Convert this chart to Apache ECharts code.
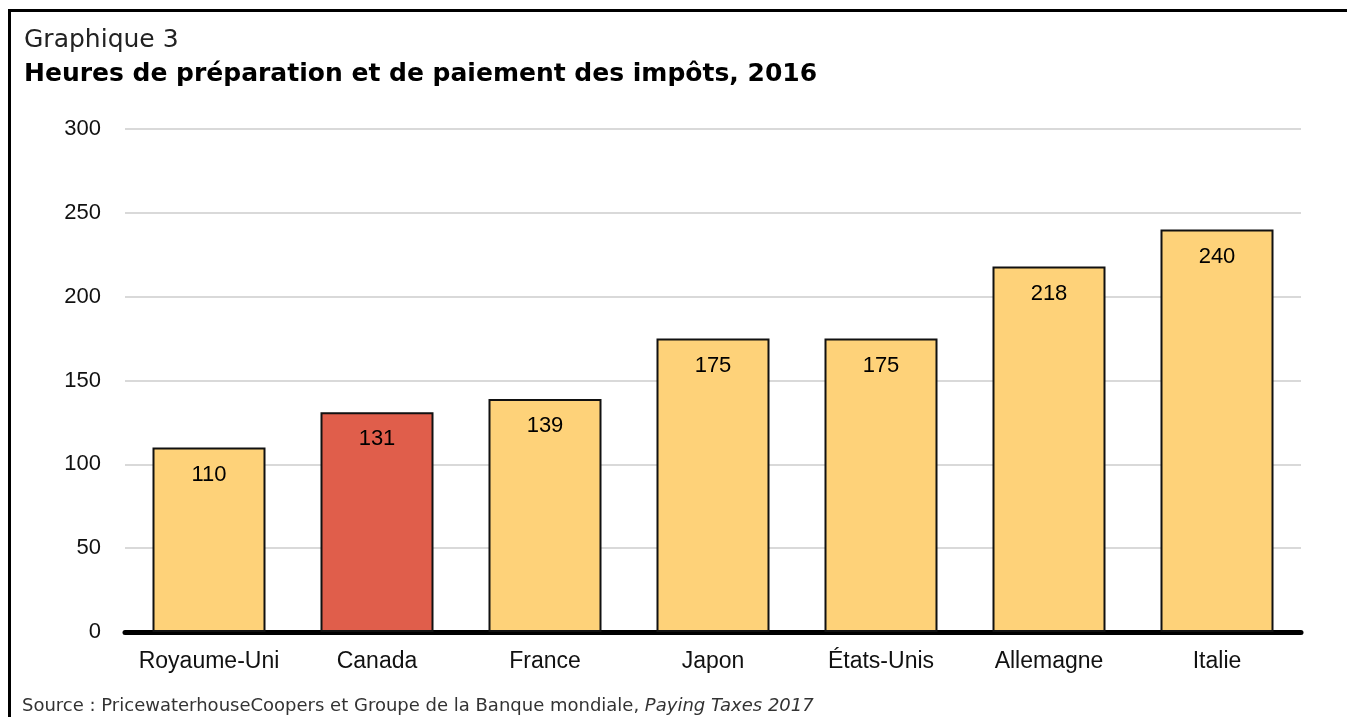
<!DOCTYPE html>
<html>
<head>
<meta charset="utf-8">
<script src="https://cdn.jsdelivr.net/npm/echarts@6/dist/echarts.min.js"></script>
<style>
  html, body { margin: 0; padding: 0; background: #fff; }
  #chart { width: 1347px; height: 717px; }
</style>
</head>
<body>
<div id="chart"></div>
<script>
// data
const categories = ["Royaume-Uni", "Canada", "France", "Japon", "États-Unis", "Allemagne", "Italie"];
const hours = [110, 131, 139, 175, 175, 218, 240];
const highlight = "Canada";

const yellow = "#FED279";
const red = "#E05E4B";
const arial = "'Liberation Sans', Arial, sans-serif";

const chart = echarts.init(document.getElementById("chart"));

const option = {
  animation: false,
  backgroundColor: "#fff",
  graphic: [
    {
      type: "rect",
      shape: { x: 9.5, y: 10.5, width: 1400, height: 800 },
      style: { fill: "none", stroke: "#000", lineWidth: 3 },
    },
    {
      type: "text",
      left: 24,
      top: 28,
      style: { text: "Graphique 3", font: "25px 'DejaVu Sans'", fill: "#222" },
    },
    {
      type: "text",
      left: 24,
      top: 62,
      style: { text: "Heures de préparation et de paiement des impôts, 2016", font: "bold 25px 'DejaVu Sans'", fill: "#000" },
    },
    {
      type: "text",
      left: 22,
      top: 697,
      style: {
        rich: {
          n: { font: "18px 'DejaVu Sans'", fill: "#333" },
          i: { font: "oblique 18px 'DejaVu Sans'", fill: "#333" },
        },
        text: "{n|Source : PricewaterhouseCoopers et Groupe de la Banque mondiale, }{i|Paying Taxes 2017}",
      },
    },
  ],
  grid: { left: 125, right: 46, top: 129, bottom: 85 },
  xAxis: {
    type: "category",
    data: categories,
    axisLine: { lineStyle: { color: "#000", width: 5 } },
    axisTick: { show: false },
    axisLabel: { interval: 0, color: "#111", fontSize: 23, fontFamily: arial, margin: 18 },
  },
  yAxis: {
    type: "value",
    min: 0,
    max: 300,
    interval: 50,
    axisLine: { show: false },
    axisTick: { show: false },
    axisLabel: { color: "#111", fontSize: 22, fontFamily: arial, margin: 24 },
    splitLine: { lineStyle: { color: "#d9d9d9", width: 2 } },
  },
  series: [
    {
      type: "bar",
      barWidth: 113,
      data: hours.map((v, i) => ({
        value: v,
        itemStyle: { color: categories[i] === highlight ? red : yellow },
      })),
      itemStyle: { borderColor: "#111", borderWidth: 2 },
      label: {
        show: true,
        position: "insideTop",
        distance: 16,
        color: "#000",
        fontSize: 22,
        fontFamily: arial,
      },
    },
  ],
};

chart.setOption(option);
</script>
</body>
</html>
